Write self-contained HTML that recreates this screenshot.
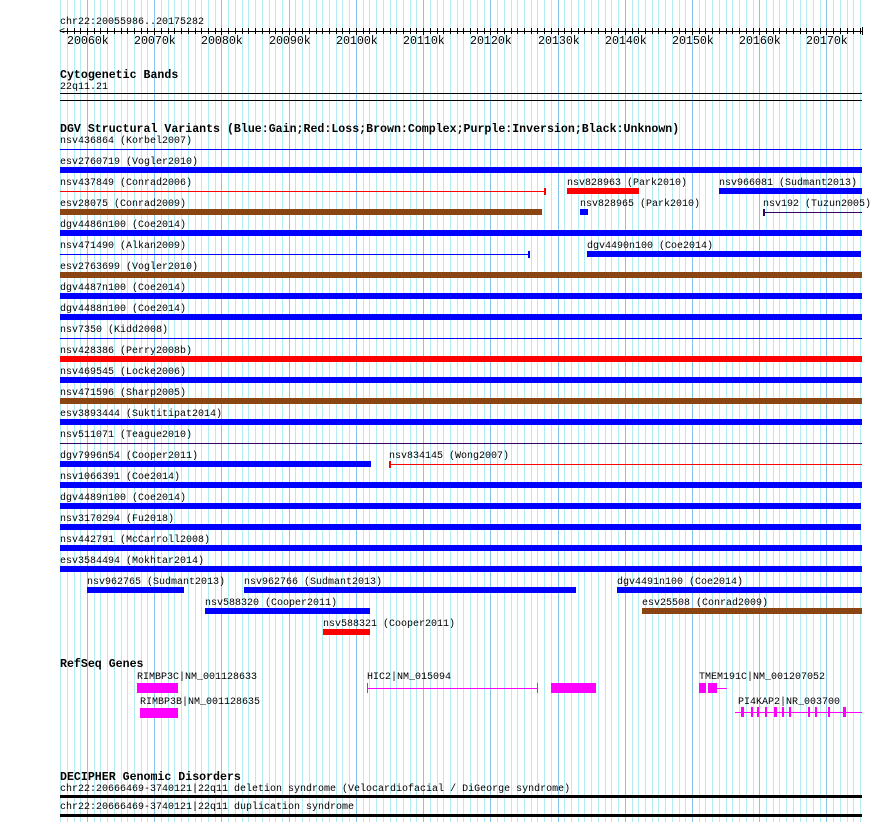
<!DOCTYPE html>
<html><head><meta charset="utf-8"><style>
body{margin:0;background:#fff;}
#c{position:relative;width:890px;height:822px;overflow:hidden;background:#fff;font-family:"Liberation Mono","DejaVu Sans Mono",monospace;font-size:10px;color:#000;}
#c div{position:absolute;}
.t{line-height:10px;white-space:pre;}
.r{font-size:11.6px;line-height:12px;white-space:pre;}
.b{font-weight:bold;font-size:11.6px;line-height:12px;white-space:pre;}
</style></head><body><div id="c"></div>
<script>
var c=document.getElementById('c');
function R(x,y,w,h,col){var d=document.createElement('div');d.style.cssText='left:'+x+'px;top:'+y+'px;width:'+w+'px;height:'+h+'px;background:'+col;c.appendChild(d);return d;}
function T(x,yc,s,cls){var d=document.createElement('div');d.className=cls||'t';d.style.left=x+'px';d.style.top=(yc-(cls?4:3))+'px';d.textContent=s;c.appendChild(d);}
function X(p){return Math.round(60+(p-20055986)*802/119296);}
for(var k=20056;k<=20176;k++){var x=X(k*1000);if(x<60||x>862)continue;R(x,0,1,822,k%10==0?'#86c6ec':'#b3ecf2');}
T(60,21,'chr22:20055986..20175282');
R(60,31,802,1,'#000');
T(59,31,'<');
for(var k=20056;k<=20175;k++){var x=X(k*1000);if(x<62)continue;R(x,28,1,k%10==0?7:6,'#000');}
R(862,27,1,8,'#000');
for(var k=20060;k<=20170;k+=10){var x=X(k*1000);T(x-20,40,k+'k','r');}
T(60,74,'Cytogenetic Bands','b');
T(60,86,'22q11.21');
R(60,93,802,1,'#000');R(60,100,802,1,'#000');
T(60,128,'DGV Structural Variants (Blue:Gain;Red:Loss;Brown:Complex;Purple:Inversion;Black:Unknown)','b');
var B='#0000ff',Rd='#ff0000',Br='#8b4513',P='#330066';
var rows=[
[0,60,'nsv436864 (Korbel2007)',60,862,B,1],
[1,60,'esv2760719 (Vogler2010)',60,862,B,0],
[2,60,'nsv437849 (Conrad2006)',60,546,Rd,1],
[2,567,'nsv828963 (Park2010)',567,639,Rd,0],
[2,719,'nsv966081 (Sudmant2013)',719,862,B,0],
[3,60,'esv28075 (Conrad2009)',60,542,Br,0],
[3,580,'nsv828965 (Park2010)',580,588,B,0],
[3,763,'nsv192 (Tuzun2005)',763,862,P,1],
[4,60,'dgv4486n100 (Coe2014)',60,862,B,0],
[5,60,'nsv471490 (Alkan2009)',60,530,B,1],
[5,587,'dgv4490n100 (Coe2014)',587,861,B,0],
[6,60,'esv2763699 (Vogler2010)',60,862,Br,0],
[7,60,'dgv4487n100 (Coe2014)',60,862,B,0],
[8,60,'dgv4488n100 (Coe2014)',60,862,B,0],
[9,60,'nsv7350 (Kidd2008)',60,862,B,1],
[10,60,'nsv428386 (Perry2008b)',60,862,Rd,0],
[11,60,'nsv469545 (Locke2006)',60,862,B,0],
[12,60,'nsv471596 (Sharp2005)',60,862,Br,0],
[13,60,'esv3893444 (Suktitipat2014)',60,862,B,0],
[14,60,'nsv511071 (Teague2010)',60,862,P,1],
[15,60,'dgv7996n54 (Cooper2011)',60,371,B,0],
[15,389,'nsv834145 (Wong2007)',389,862,Rd,1],
[16,60,'nsv1066391 (Coe2014)',60,862,B,0],
[17,60,'dgv4489n100 (Coe2014)',60,861,B,0],
[18,60,'nsv3170294 (Fu2018)',60,861,B,0],
[19,60,'nsv442791 (McCarroll2008)',60,862,B,0],
[20,60,'esv3584494 (Mokhtar2014)',60,862,B,0],
[21,87,'nsv962765 (Sudmant2013)',87,184,B,0],
[21,244,'nsv962766 (Sudmant2013)',244,576,B,0],
[21,617,'dgv4491n100 (Coe2014)',617,862,B,0],
[22,205,'nsv588320 (Cooper2011)',205,370,B,0],
[22,642,'esv25508 (Conrad2009)',642,862,Br,0],
[23,323,'nsv588321 (Cooper2011)',323,370,Rd,0]];
rows.forEach(function(r){var L=140+21*r[0];T(r[1],L,r[2]);
 if(r[6]){R(r[3],L+9,r[4]-r[3],1,r[5]);if(r[3]>60)R(r[3],L+6,2,7,r[5]);if(r[4]<862)R(r[4]-2,L+6,2,7,r[5]);}
 else R(r[3],L+6,r[4]-r[3],6,r[5]);});
var M='#ff00ff';
T(60,663,'RefSeq Genes','b');
T(137,676,'RIMBP3C|NM_001128633');R(137,683,41,10,M);
T(140,701,'RIMBP3B|NM_001128635');R(140,708,38,10,M);
T(367,676,'HIC2|NM_015094');
R(367,683,1,10,M);R(367,688,170,1,M);R(537,683,1,10,M);R(551,683,45,10,M);
T(699,676,'TMEM191C|NM_001207052');R(699,683,7,10,M);R(708,683,9,10,M);R(717,688,10,1,M);
T(738,701,'PI4KAP2|NR_003700');
R(735,712,127,1,M);
[[741,3],[751,2],[757,2],[765,2],[774,3],[782,2],[789,2],[808,2],[815,2],[828,2],[843,3]].forEach(function(e){R(e[0],707,e[1],10,M);});
T(60,776,'DECIPHER Genomic Disorders','b');
T(60,788,'chr22:20666469-3740121|22q11 deletion syndrome (Velocardiofacial / DiGeorge syndrome)');
R(60,795,802,3,'#000');
T(60,806,'chr22:20666469-3740121|22q11 duplication syndrome');
R(60,814,802,3,'#000');
</script></body></html>
